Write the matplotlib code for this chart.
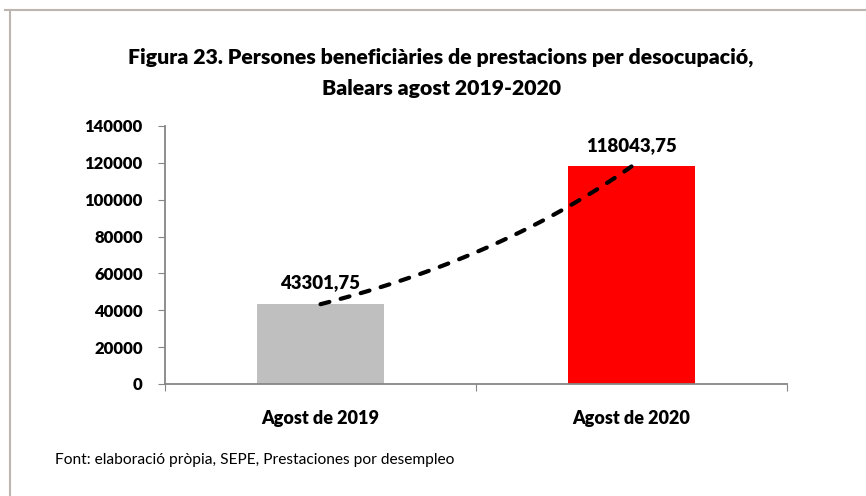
import numpy as np
import matplotlib.pyplot as plt
from matplotlib.lines import Line2D

categories = ["Agost de 2019", "Agost de 2020"]
values = [43301.75, 118043.75]
labels = ["43301,75", "118043,75"]
colors = ["#BFBFBF", "#FF0000"]
yticks = [0, 20000, 40000, 60000, 80000, 100000, 120000, 140000]

plt.rcParams['font.family'] = ['Lato', 'DejaVu Sans']
plt.rcParams['font.weight'] = 'bold'

fig = plt.figure(figsize=(8.66, 4.96), dpi=100)
ax = fig.add_axes([165/866, 1 - 384/496, 622/866, 258/496])

x = np.arange(len(categories))
ax.bar(x, values, width=0.41, color=colors, zorder=2)

# exponential trendline between the two points
b = np.log(values[1] / values[0])
xt = np.linspace(0, 1, 100)
yt = values[0] * np.exp(b * xt)
ax.plot(xt, yt, color="black", linestyle=(0, (2.2, 2.8)), linewidth=3.0,
        dash_capstyle="round", zorder=3)

for xi, v, lab in zip(x, values, labels):
    ax.text(xi, v + 11500, lab, ha="center", va="center", fontsize=13.4,
            fontweight="heavy", zorder=4)

ax.set_xlim(-0.5, 1.5)
ax.set_ylim(0, 140000)
ax.set_yticks(yticks)
ax.set_yticklabels([str(t) for t in yticks])
ax.set_xticks([-0.5, 0.5, 1.5])
ax.set_xticklabels([])
ax.set_xticks(x, minor=True)
ax.set_xticklabels(categories, minor=True)
ax.tick_params(axis="x", which="minor", length=0, pad=19)
ax.tick_params(axis="x", which="major", length=5, color="#868686")
ax.tick_params(axis="y", length=5, color="#868686", pad=11)
for lbl in ax.get_yticklabels():
    lbl.set_fontsize(12)
    lbl.set_fontweight("heavy")
for lbl in ax.get_xticklabels(minor=True):
    lbl.set_fontsize(13)
    lbl.set_fontweight("heavy")
for s in ["top", "right"]:
    ax.spines[s].set_visible(False)
for s in ["left", "bottom"]:
    ax.spines[s].set_color("#868686")
    ax.spines[s].set_linewidth(1.3)

fig.text(441/866, 1 - 57/496, "Figura 23. Persones beneficiàries de prestacions per desocupació,",
         ha="center", va="center", fontsize=15.3, fontweight="heavy")
fig.text(441/866, 1 - 88/496, "Balears agost 2019-2020",
         ha="center", va="center", fontsize=15.3, fontweight="heavy")
fig.text(55/866, 1 - 460/496, "Font: elaboració pròpia, SEPE, Prestaciones por desempleo",
         ha="left", va="center", fontsize=11.2, fontweight="normal")

# outer frame (top and left edges)
fig.add_artist(Line2D([5/866, 1], [1 - 10/496, 1 - 10/496], color="#BDB5B0", lw=1.5))
fig.add_artist(Line2D([10/866, 10/866], [0, 1 - 10/496], color="#BDB5B0", lw=1.5))

fig.savefig("out.png", dpi=100)
